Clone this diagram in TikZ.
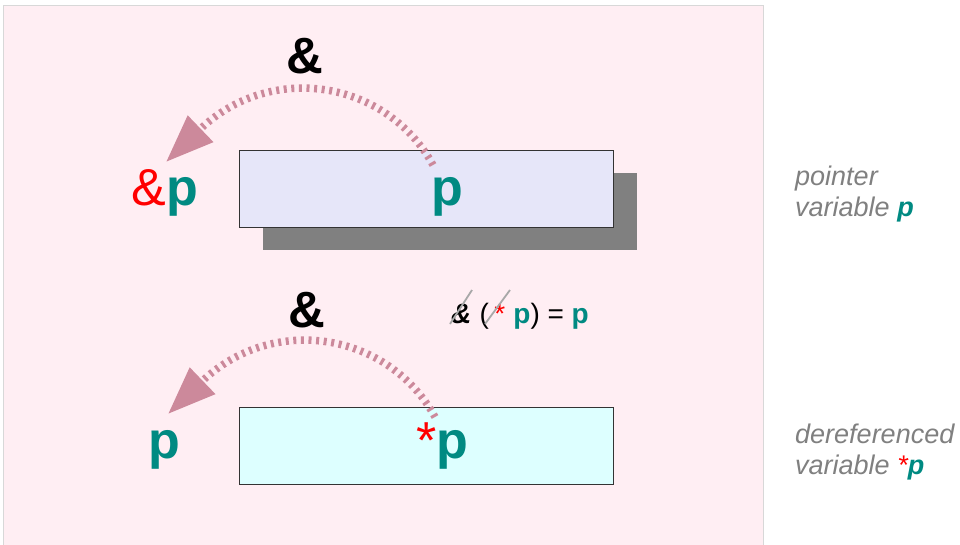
\documentclass[tikz,border=0pt]{standalone}
\usepackage{fontspec}
\setmainfont{Liberation Sans}
\usetikzlibrary{arrows.meta,calc}
\definecolor{panelpink}{RGB}{255,238,243}
\definecolor{panelline}{RGB}{216,216,216}
\definecolor{lav}{RGB}{230,230,249}
\definecolor{lcyan}{RGB}{221,255,255}
\definecolor{shadowgray}{RGB}{128,128,128}
\definecolor{tealp}{RGB}{0,138,130}
\definecolor{arrowc}{RGB}{204,137,155}
\definecolor{notegray}{RGB}{128,128,128}
\definecolor{strikegray}{RGB}{168,168,168}
\tikzset{
  varbox/.style={draw=black!80, line width=0.8pt, minimum width=374pt, minimum height=77pt, inner sep=0pt},
  bigtxt/.style={inner sep=0pt, anchor=base, font=\fontsize{52}{60}\selectfont},
  amplabel/.style={inner sep=0pt, anchor=base, font=\fontsize{51}{60}\selectfont\bfseries},
  fm/.style={inner sep=0pt, anchor=base west, font=\fontsize{28}{34}\selectfont},
  note/.style={inner sep=0pt, anchor=base west, text=notegray, font=\fontsize{27}{31}\selectfont\itshape},
  strike/.style={draw=strikegray, line width=1.8pt},
  bendarrow/.style={draw=arrowc, line width=7.5pt, dash pattern=on 3pt off 4.6pt,
    -{Triangle[length=48pt,width=35pt]}, fill=none},
}
\begin{document}
\begin{tikzpicture}[x=1pt,y=-1pt]
\useasboundingbox (0,0) rectangle (960,544);
% panel
\path[fill=panelpink, draw=panelline, line width=1pt] (3.5,5.5) rectangle (763,548);
% top row
\node[fill=shadowgray, minimum width=374pt, minimum height=77pt, inner sep=0pt] (sh) at (449.5,211.5) {};
\node[varbox, fill=lav] (b1) at (426,188.5) {};
\node[bigtxt, text=tealp] (p1) at (447,205) {\bfseries p};
\node[bigtxt] (ap) at (165,205) {\textcolor{red}{\&}\textcolor{tealp}{\bfseries p}};
\node[amplabel] (amp1) at (305,73) {\&};
% bottom row
\node[varbox, fill=lcyan] (b2) at (426,445.5) {};
\node[bigtxt] (sp) at (442,458) {\textcolor{red}{*}\textcolor{tealp}{\bfseries p}};
\node[bigtxt, text=tealp] (p2) at (164,458) {\bfseries p};
\node[amplabel] (amp2) at (307,327) {\&};
% arrows
\coordinate (a1s) at (433,165);
\coordinate (a1e) at (166,162);
\coordinate (a2s) at (435,417);
\coordinate (a2e) at (168,414);
\draw[bendarrow] (a1s) .. controls (386.6,80.3) and (271,61) .. (a1e);
\draw[bendarrow] (a2s) .. controls (388.6,332.3) and (273,313) .. (a2e);
% formula
\node[fm] (f1) at (451,323) {\bfseries\itshape\&};
\node[fm] (f2) at (f1.base east) {\ (};
\node[fm, text=red] (f3) at ([xshift=5pt]f2.base east) {*};
\node[fm] (f4) at (f3.base east) {\ \textcolor{tealp}{\bfseries p})\ =\ \textcolor{tealp}{\bfseries p}};
\draw[strike] (450,324) -- (472,290);
\draw[strike] (485,324) -- (510,290);
% notes
\node[note] (n1) at (795,185) {pointer};
\node[note] (n2) at (795,216) {variable \textcolor{tealp}{\bfseries p}};
\node[note] (n3) at (795,443) {dereferenced};
\node[note] (n4) at (795,474) {variable \textcolor{red}{*}\textcolor{tealp}{\bfseries p}};
\end{tikzpicture}
\end{document}
